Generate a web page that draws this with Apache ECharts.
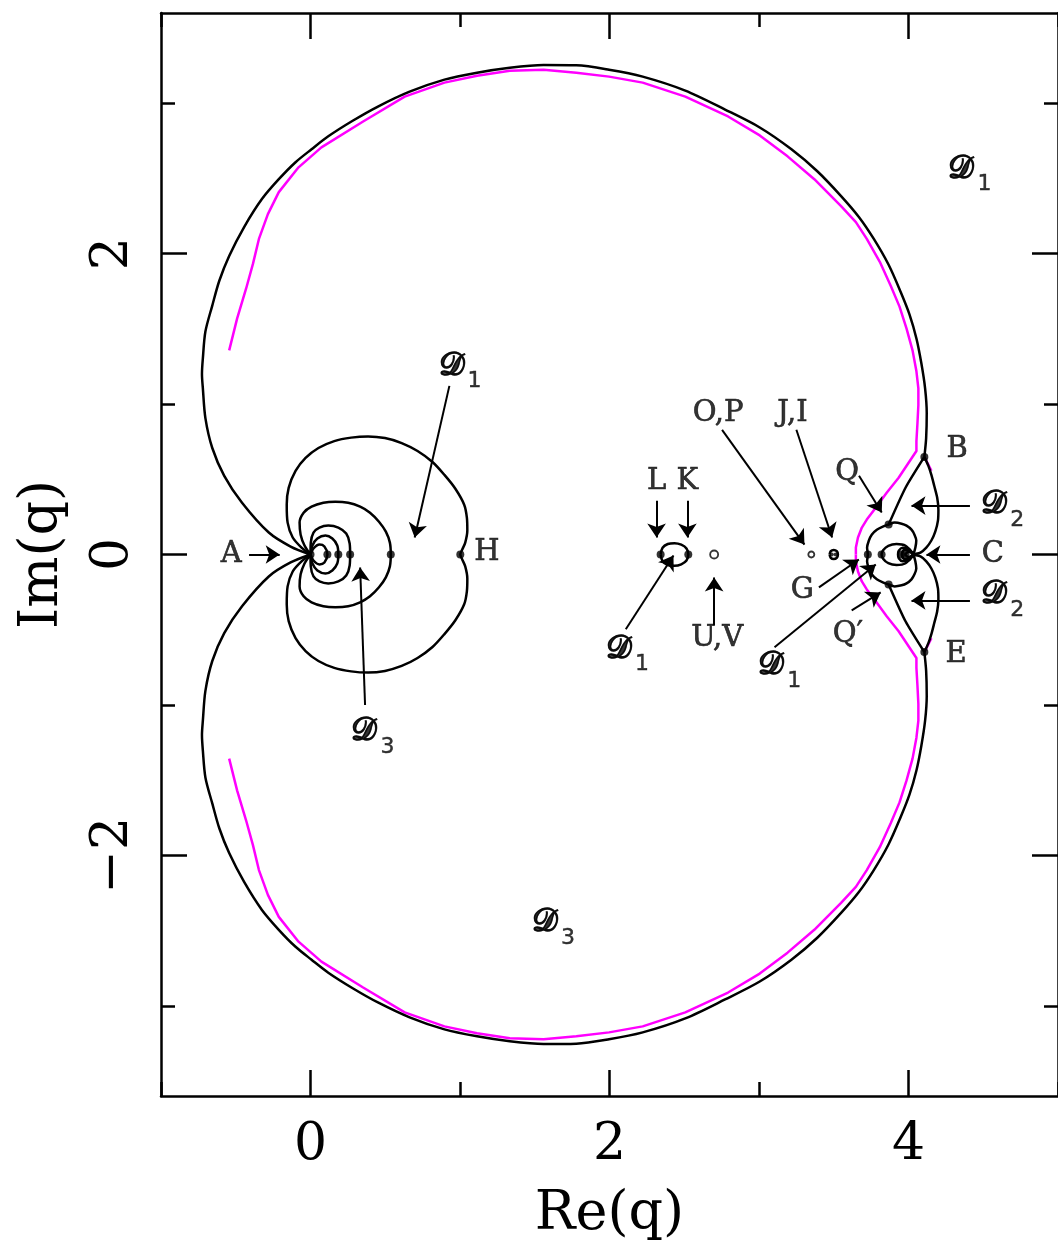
<!DOCTYPE html>
<html>
<head>
<meta charset="utf-8">
<script src="https://cdn.jsdelivr.net/npm/echarts@6/dist/echarts.min.js"></script>
<style>
  html, body { margin: 0; padding: 0; background: #fff; }
  #chart { width: 1058px; height: 1247px; }
</style>
</head>
<body>
<div id="chart"></div>
<script>
const outerUpper = [[0, 0], [-0.133, 0.053], [-0.279, 0.146], [-0.458, 0.344], [-0.577, 0.523], [-0.657, 0.708], [-0.703, 0.907], [-0.72, 1.105], [-0.726, 1.2], [-0.72, 1.304], [-0.703, 1.482], [-0.657, 1.655], [-0.61, 1.82], [-0.544, 1.985], [-0.444, 2.177], [-0.325, 2.363], [-0.212, 2.495], [-0.1, 2.608], [0.007, 2.694], [0.119, 2.78], [0.285, 2.885], [0.451, 2.978], [0.663, 3.077], [0.896, 3.157], [1.114, 3.203], [1.333, 3.236], [1.559, 3.254], [1.778, 3.252], [1.997, 3.223], [2.222, 3.177], [2.507, 3.084], [2.773, 2.958], [3.005, 2.839], [3.217, 2.694], [3.39, 2.548], [3.549, 2.383], [3.668, 2.244], [3.768, 2.098], [3.867, 1.926], [3.947, 1.747], [4.007, 1.595], [4.053, 1.436], [4.086, 1.271], [4.111, 1.105], [4.122, 0.94], [4.118, 0.774], [4.106, 0.649]]
const magentaUpper = [[-0.544, 1.357], [-0.491, 1.568], [-0.431, 1.767], [-0.385, 1.932], [-0.345, 2.098], [-0.285, 2.263], [-0.212, 2.409], [-0.08, 2.574], [0.073, 2.707], [0.352, 2.879], [0.63, 3.044], [0.896, 3.137], [1.114, 3.183], [1.333, 3.216], [1.559, 3.223], [1.778, 3.203], [1.997, 3.177], [2.222, 3.137], [2.507, 3.044], [2.793, 2.912], [3.005, 2.786], [3.191, 2.647], [3.37, 2.495], [3.549, 2.316], [3.648, 2.21], [3.721, 2.098], [3.808, 1.946], [3.881, 1.787], [3.94, 1.648], [3.987, 1.502], [4.027, 1.357], [4.053, 1.218], [4.066, 1.105], [4.066, 0.993], [4.06, 0.874], [4.053, 0.754], [4.053, 0.688], [3.934, 0.51], [3.854, 0.41], [3.781, 0.311], [3.721, 0.232], [3.688, 0.179], [3.662, 0.113], [3.648, 0.046], [3.648, 0]]
const magentaB = [[4.106, 0.65], [4.153, 0.557]]
const arcBC = [[4.106, 0.649], [4.133, 0.589], [4.153, 0.529], [4.172, 0.457], [4.192, 0.377], [4.2, 0.298], [4.197, 0.225], [4.179, 0.152], [4.153, 0.093], [4.119, 0.046], [4.08, 0.013], [4.033, 0]]
const lineBQ = [[4.106, 0.649], [3.98, 0.444], [3.867, 0.199]]
const circleQ = [[4.033, 0], [4.046, 0.046], [4.052, 0.093], [4.04, 0.132], [4.02, 0.165], [3.987, 0.192], [3.954, 0.205], [3.907, 0.212], [3.867, 0.199], [3.828, 0.185], [3.788, 0.165], [3.754, 0.132], [3.735, 0.093], [3.723, 0.046], [3.728, 0]]
const eyeC = [[4.033, 0], [3.98, 0.058], [3.92, 0.07], [3.865, 0.058], [3.83, 0.028], [3.82, 0]]
const miniC1 = [[4.033, 0], [4.0, 0.04], [3.96, 0.045], [3.935, 0.025], [3.93, 0]]
const miniC2 = [[4.033, 0], [4.0, 0.03], [3.97, 0.03], [3.955, 0]]
const miniC3 = [[4.033, 0], [4.0, 0.018], [3.98, 0]]
const loopH = [[0, 0], [-0.06, 0.046], [-0.119, 0.113], [-0.153, 0.212], [-0.159, 0.331], [-0.146, 0.443], [-0.1, 0.556], [-0.033, 0.642], [0.053, 0.708], [0.159, 0.754], [0.272, 0.777], [0.385, 0.785], [0.498, 0.774], [0.61, 0.741], [0.716, 0.688], [0.816, 0.615], [0.896, 0.529], [0.969, 0.437], [1.028, 0.331], [1.046, 0.245], [1.049, 0.159], [1.035, 0.079], [1.015, 0.033], [1.002, 0]]
const loop2 = [[0, 0], [-0.04, 0.06], [-0.066, 0.132], [-0.073, 0.212], [-0.046, 0.278], [0.007, 0.318], [0.086, 0.344], [0.166, 0.351], [0.252, 0.344], [0.332, 0.318], [0.398, 0.278], [0.458, 0.218], [0.504, 0.152], [0.531, 0.079], [0.537, 0]]
const loop3 = [[0, 0], [0.002, 0.079], [0.02, 0.146], [0.06, 0.179], [0.119, 0.192], [0.186, 0.179], [0.239, 0.139], [0.262, 0.073], [0.265, 0]]
const loop4 = [[0, 0], [0.013, 0.06], [0.046, 0.106], [0.1, 0.126], [0.146, 0.106], [0.179, 0.06], [0.186, 0]]
const loop5 = [[0, 0], [0.02, 0.04], [0.06, 0.066], [0.093, 0.053], [0.113, 0]]
const loopLK = [[2.342, 0], [2.355, 0.045], [2.39, 0.07], [2.435, 0.075], [2.48, 0.065], [2.515, 0.04], [2.527, 0]]
const loopJI = [[3.472, 0], [3.48, 0.022], [3.5, 0.03], [3.52, 0.022], [3.528, 0]]

// points
const dots = [[0, 0], [0.113, 0], [0.186, 0], [0.265, 0], [0.537, 0], [1.002, 0], [2.342, 0], [2.527, 0], [3.728, 0], [3.82, 0], [3.95, 0], [3.98, 0], [3.867, 0.199], [3.867, -0.199], [4.106, 0.649], [4.106, -0.649]]
const smallDots = [[3.487, 0], [3.513, 0]]
const openDots = [[2.70, 0], [3.35, 0]]
const openSizes = [8, 6]

// annotations: arrows [tailX, tailY, headX, headY]
const arrows = [
  [-0.411, 0, -0.206, 0],
  [0.929, 1.121, 0.697, 0.113],
  [0.365, -1.001, 0.332, -0.086],
  [2.315, 0.358, 2.315, 0.113],
  [2.521, 0.358, 2.521, 0.113],
  [2.109, -0.497, 2.428, -0.007],
  [2.70, -0.471, 2.70, -0.153],
  [2.753, 0.829, 3.304, 0.066],
  [3.25, 0.829, 3.489, 0.113],
  [3.401, -0.219, 3.668, -0.033],
  [3.104, -0.617, 3.781, -0.066],
  [3.669, 0.524, 3.821, 0.279],
  [3.62, -0.371, 3.814, -0.252],
  [4.411, 0.325, 4.02, 0.325],
  [4.411, 0, 4.12, 0],
  [4.411, -0.305, 4.02, -0.305]
]
const letterText = ['A', 'H', 'L', 'K', 'U,V', 'O,P', 'J,I', 'G', 'Q', 'Q′', 'C', 'B', 'E']
const letterPos = [[-0.53, 0], [1.18, 0.013], [2.315, 0.484], [2.521, 0.484], [2.72, -0.56], [2.726, 0.94], [3.224, 0.94], [3.29, -0.239], [3.589, 0.544], [3.595, -0.53], [4.564, 0], [4.325, 0.696], [4.318, -0.663]]
const scriptSub = ['1', '3', '1', '3', '1', '1', '2', '2']
const scriptPos = [[1.0, 1.25], [0.418, -1.18], [4.411, 2.56], [1.625, -2.45], [2.12, -0.63], [3.138, -0.74], [4.63, 0.33], [4.63, -0.27]]

// axis ticks
const xMajor = [0, 2, 4]
const xMinor = [-1, 1, 3, 5]
const yMajor = [-2, 0, 2]
const yMinor = [-3, -1, 1, 3]

const FONT = "'DejaVu Serif', serif"
const conj = p => [p[0], -p[1]]
const closed = up => up.concat(up.slice(0, -1).reverse().map(conj))
const minus = v => (v < 0 ? '−' + Math.abs(v) : String(v))

let myChart = echarts.init(document.getElementById('chart'))

function xAx (pos, ticks, len, major) {
  return {
    type: 'value', min: -1, max: 5, position: pos,
    axisLine: { show: major, onZero: false, lineStyle: { color: '#000', width: 2.5 } },
    axisTick: { show: true, inside: true, length: len, customValues: ticks, lineStyle: { color: '#000', width: 2.5 } },
    axisLabel: { show: major && pos === 'bottom', customValues: ticks, margin: 23, color: '#000', fontFamily: FONT, fontSize: 52, formatter: minus },
    splitLine: { show: false },
    name: major && pos === 'bottom' ? 'Re(q)' : '',
    nameLocation: 'middle',
    nameGap: 92,
    nameTextStyle: { color: '#000', fontFamily: FONT, fontSize: 54 }
  }
}
function yAx (pos, ticks, len, major) {
  return {
    type: 'value', min: -3.6, max: 3.6, position: pos,
    axisLine: { show: major, onZero: false, lineStyle: { color: '#000', width: 2.5 } },
    axisTick: { show: true, inside: true, length: len, customValues: ticks, lineStyle: { color: '#000', width: 2.5 } },
    axisLabel: { show: major && pos === 'left', customValues: ticks, rotate: 90, margin: 22, color: '#000', fontFamily: FONT, fontSize: 52, formatter: minus },
    splitLine: { show: false },
    name: major && pos === 'left' ? 'Im(q)' : '',
    nameLocation: 'middle',
    nameGap: 91,
    nameTextStyle: { color: '#000', fontFamily: FONT, fontSize: 54 }
  }
}

const series = []
function curve (pts, color, smooth) {
  series.push({
    type: 'line', data: pts, symbol: 'none', smooth: smooth, silent: true, z: 2,
    lineStyle: { color: color, width: 2.5 }
  })
}
// magenta boundary
curve(magentaUpper, '#ff00ff', false)
curve(magentaUpper.map(conj), '#ff00ff', false)
curve(magentaB, '#ff00ff', false)
curve(magentaB.map(conj), '#ff00ff', false)
// black boundaries
curve(outerUpper, '#000', 0.3)
curve(outerUpper.map(conj), '#000', 0.3)
curve(closed(arcBC), '#000', 0.3)
curve(lineBQ, '#000', 0.2)
curve(lineBQ.map(conj), '#000', 0.2)
;[circleQ, eyeC, miniC1, miniC2, miniC3, loopH, loop2, loop3, loop4, loop5, loopLK, loopJI].forEach(function (l) {
  curve(closed(l), '#000', 0.3)
})

series.push({
  type: 'scatter', data: dots, symbolSize: 8, silent: true, z: 4,
  itemStyle: { color: '#000' }
})
series.push({
  type: 'scatter', data: smallDots, symbolSize: 4, silent: true, z: 4,
  itemStyle: { color: '#000' }
})
series.push({
  type: 'scatter', silent: true, z: 4,
  data: openDots.map(function (p, i) { return { value: p, symbolSize: openSizes[i] } }),
  itemStyle: { color: '#fff', borderColor: '#000', borderWidth: 1.8 }
})
series.push({
  type: 'lines', coordinateSystem: 'cartesian2d', silent: true, z: 3,
  data: arrows.map(function (a) { return { coords: [[a[0], a[1]], [a[2], a[3]]] } }),
  symbol: ['none', 'arrow'], symbolSize: 14,
  lineStyle: { color: '#000', width: 2, opacity: 1, curveness: 0 }
})
series.push({
  type: 'scatter', silent: true, z: 5, symbolSize: 1,
  itemStyle: { color: 'rgba(0,0,0,0)' },
  data: letterText.map(function (t, i) { return { value: letterPos[i], name: t } }),
  label: { show: true, position: 'inside', formatter: '{b}', color: '#000', fontFamily: FONT, fontSize: 29, textBorderColor: '#000', textBorderWidth: 0.6 }
})
series.push({
  type: 'scatter', silent: true, z: 5, symbolSize: 1,
  itemStyle: { color: 'rgba(0,0,0,0)' },
  data: scriptSub.map(function (t, i) { return { value: scriptPos[i], name: t } }),
  label: {
    show: true, position: 'inside',
    formatter: function (p) { return '{d|𝒟}{s|' + p.name + '}' },
    rich: {
      d: { fontSize: 32, fontWeight: 'bold', fontFamily: "'DejaVu Serif', 'DejaVu Sans', 'Noto Sans', serif", color: '#000', textBorderColor: '#000', textBorderWidth: 0.6, lineHeight: 32, verticalAlign: 'middle' },
      s: { fontSize: 22, fontFamily: "'DejaVu Sans', sans-serif", color: '#000', textBorderColor: '#000', textBorderWidth: 0.4, lineHeight: 52, verticalAlign: 'bottom', padding: [0, 0, 0, 3] }
    }
  }
})

myChart.setOption({
  animation: false,
  backgroundColor: '#fff',
  grid: { left: 161, top: 13, right: -7.5, bottom: 146, containLabel: false },
  xAxis: [xAx('bottom', xMajor, 26, true), xAx('bottom', xMinor, 14, false), xAx('top', xMajor, 26, true), xAx('top', xMinor, 14, false)],
  yAxis: [yAx('left', yMajor, 26, true), yAx('left', yMinor, 14, false), yAx('right', yMajor, 26, true), yAx('right', yMinor, 14, false)],
  series: series
})
window.addEventListener('resize', function () {
  myChart.resize()
})
</script>
</body>
</html>
